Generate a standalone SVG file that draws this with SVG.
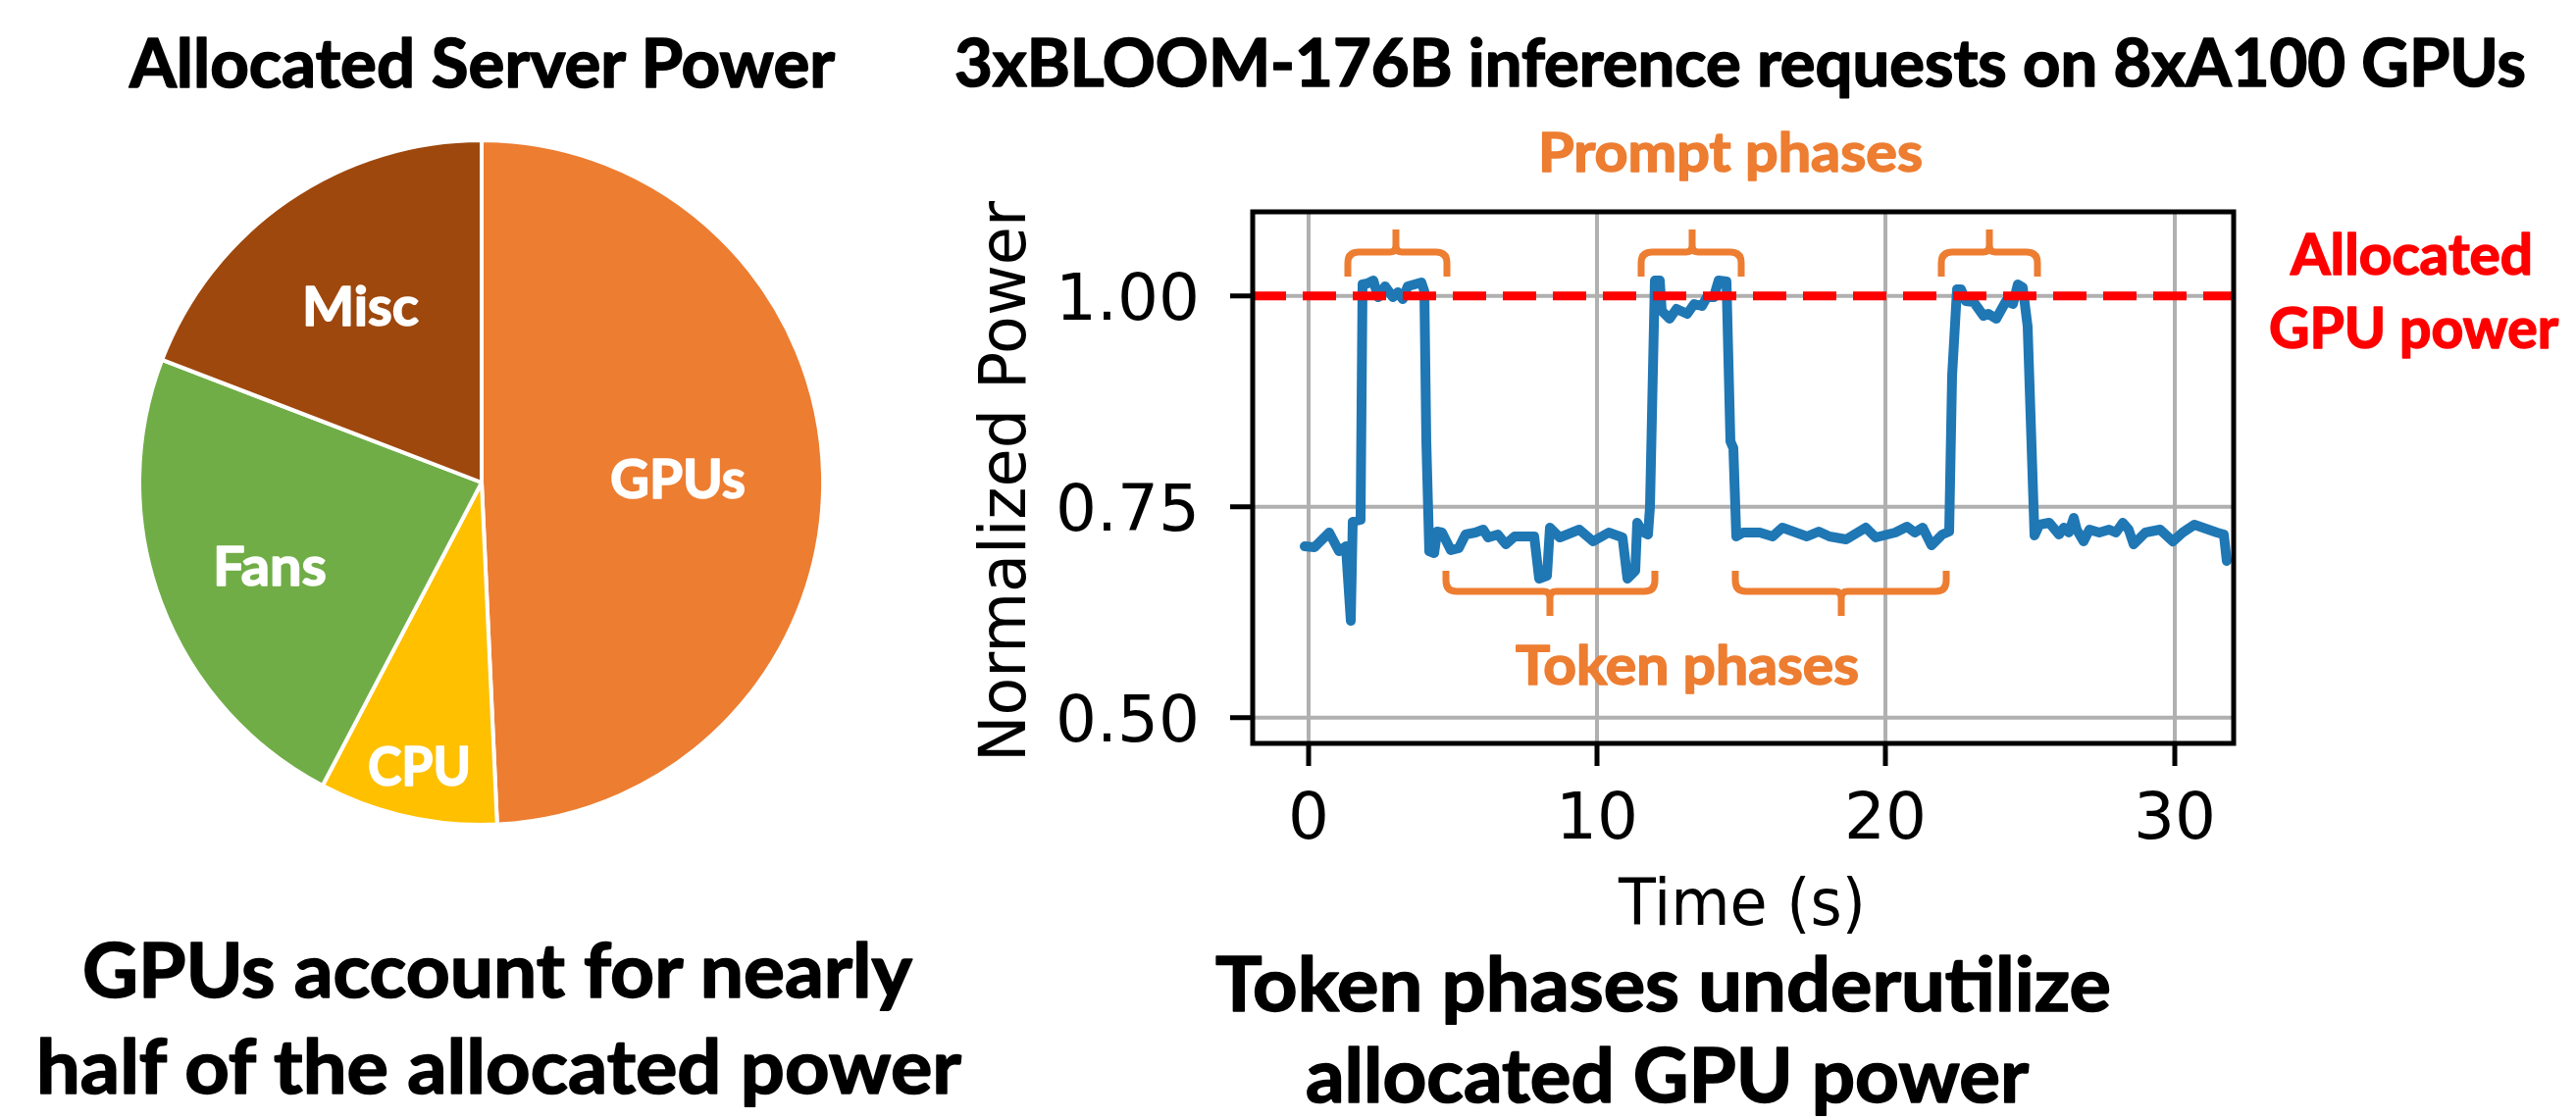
<svg xmlns="http://www.w3.org/2000/svg" width="2626" height="1142" viewBox="0 0 2626 1142">
<style>
.t{font-family:Lato,"Open Sans","Liberation Sans",sans-serif;font-weight:bold;text-anchor:middle;stroke-width:1.6;stroke-linejoin:round}
.blk{fill:#000;stroke:#000}
.wht{fill:#fff;stroke:#fff}
.org{fill:#ED7D31;stroke:#ED7D31}
.red{fill:#FF0000;stroke:#FF0000}
.mp{font-family:"DejaVu Sans",sans-serif;font-size:66px;fill:#000}
.grid{stroke:#b0b0b0;stroke-width:4;fill:none}
.tick{stroke:#000;stroke-width:5}
.brace{stroke:#ED7D31;stroke-width:7;fill:none;stroke-linejoin:round}
.slice{stroke:#fff;stroke-width:4;stroke-linejoin:round}
</style>
<rect x="0" y="0" width="2626" height="1142" fill="#fff"/>

<g id="pie-chart">
  <text class="t blk" x="491.5" y="89" font-size="68" textLength="719" lengthAdjust="spacingAndGlyphs">Allocated Server Power</text>
  <g id="slice-gpus">
    <path class="slice" fill="#ED7D31" d="M491,492 L491,143 A349,349 0 0 1 506.8,840.6 Z"/>
    <text class="t wht" x="691" y="508" font-size="56" textLength="138" lengthAdjust="spacingAndGlyphs">GPUs</text>
  </g>
  <g id="slice-cpu">
    <path class="slice" fill="#FFC000" d="M491,492 L506.8,840.6 A349,349 0 0 1 328.8,801 Z"/>
    <text class="t wht" x="427.5" y="801" font-size="56" textLength="105" lengthAdjust="spacingAndGlyphs">CPU</text>
  </g>
  <g id="slice-fans">
    <path class="slice" fill="#70AD47" d="M491,492 L328.8,801 A349,349 0 0 1 165.2,366.9 Z"/>
    <text class="t wht" x="275" y="597" font-size="56" textLength="116" lengthAdjust="spacingAndGlyphs">Fans</text>
  </g>
  <g id="slice-misc">
    <path class="slice" fill="#9E480E" d="M491,492 L165.2,366.9 A349,349 0 0 1 491,143 Z"/>
    <text class="t wht" x="367.5" y="332" font-size="56" textLength="119" lengthAdjust="spacingAndGlyphs">Misc</text>
  </g>
  <g id="caption-left">
    <text class="t blk" x="507" y="1017" font-size="76" textLength="846" lengthAdjust="spacingAndGlyphs">GPUs account for nearly</text>
    <text class="t blk" x="508.5" y="1115" font-size="76" textLength="943" lengthAdjust="spacingAndGlyphs">half of the allocated power</text>
  </g>
</g>

<g id="line-chart">
  <text class="t blk" x="1774" y="88" font-size="66" textLength="1602" lengthAdjust="spacingAndGlyphs">3xBLOOM-176B inference requests on 8xA100 GPUs</text>
  <g id="grid">
    <path class="grid" d="M1334,216 V758 M1628,216 V758 M1922,216 V758 M2217,216 V758 M1277,301.7 H2277 M1277,516.7 H2277 M1277,731.7 H2277"/>
  </g>
  <g id="series">
    <polyline fill="none" stroke="#1f77b4" stroke-width="10" stroke-linejoin="round" stroke-linecap="round" points="1330,557 1340,558 1355,543 1365,562 1372,557 1377,633 1379,532 1387,530 1389,290 1394,289 1400,286 1405,303 1412,292 1420,303 1425,298 1430,305 1435,292 1442,290 1449,288 1452,297 1454,450 1457,562 1462,564 1465,542 1470,543 1479,561 1487,559 1494,545 1504,543 1512,540 1517,548 1527,545 1535,555 1544,547 1564,547 1569,590 1577,587 1580,538 1590,548 1610,540 1624,552 1640,543 1654,548 1659,590 1667,582 1669,533 1674,542 1680,545 1682,517 1687,286 1692,286 1694,317 1702,325 1709,315 1720,320 1727,310 1735,312 1740,303 1747,303 1752,286 1760,287 1764,450 1767,457 1770,547 1777,543 1794,543 1807,547 1817,538 1842,547 1854,542 1865,547 1882,550 1902,538 1912,548 1932,543 1944,537 1952,543 1960,538 1969,556 1980,545 1987,542 1990,383 1995,295 1999,295 2004,307 2012,308 2022,322 2027,320 2035,325 2045,307 2052,310 2057,290 2062,293 2067,333 2074,546 2079,535 2089,533 2099,545 2104,538 2109,543 2114,528 2117,540 2124,552 2130,540 2140,543 2150,540 2157,543 2164,533 2170,540 2175,555 2187,543 2202,540 2215,552 2225,543 2237,535 2260,543 2267,545 2270,572"/>
  </g>
  <g id="allocated-line">
    <line x1="1277" y1="301.7" x2="2277" y2="301.7" stroke="#FF0000" stroke-width="9" stroke-dasharray="34 17"/>
  </g>
  <g id="axes">
    <rect x="1277" y="216" width="1000" height="542" fill="none" stroke="#000" stroke-width="5"/>
    <path class="tick" d="M1254,301.7 H1277 M1254,516.7 H1277 M1254,731.7 H1277 M1334,758 V781 M1628,758 V781 M1922,758 V781 M2217,758 V781"/>
    <text class="mp" x="1223" y="326" text-anchor="end">1.00</text>
    <text class="mp" x="1223" y="541" text-anchor="end">0.75</text>
    <text class="mp" x="1223" y="756" text-anchor="end">0.50</text>
    <text class="mp" x="1334" y="855" text-anchor="middle">0</text>
    <text class="mp" x="1628" y="855" text-anchor="middle">10</text>
    <text class="mp" x="1922" y="855" text-anchor="middle">20</text>
    <text class="mp" x="2217" y="855" text-anchor="middle">30</text>
    <text class="mp" x="1776" y="943" text-anchor="middle" textLength="252" lengthAdjust="spacingAndGlyphs">Time (s)</text>
    <text class="mp" transform="translate(1045,491) rotate(-90)" x="0" y="0" font-size="70" text-anchor="middle" textLength="572" lengthAdjust="spacingAndGlyphs">Normalized Power</text>
  </g>
  <g id="prompt-braces">
    <path class="brace" d="M1374,282 V268 Q1374,257 1385,257 H1417 Q1423,257 1423,250 V234 M1423,250 Q1423,257 1429,257 H1464 Q1475,257 1475,268 V282"/>
    <path class="brace" d="M1673,282 V268 Q1673,257 1684,257 H1719 Q1725,257 1725,250 V234 M1725,250 Q1725,257 1731,257 H1764 Q1775,257 1775,268 V282"/>
    <path class="brace" d="M1979,282 V268 Q1979,257 1990,257 H2022 Q2028,257 2028,250 V234 M2028,250 Q2028,257 2034,257 H2066 Q2077,257 2077,268 V282"/>
    <text class="t org" x="1764" y="175" font-size="56" textLength="392" lengthAdjust="spacingAndGlyphs">Prompt phases</text>
  </g>
  <g id="token-braces">
    <path class="brace" d="M1474,582 V592 Q1474,603 1485,603 H1574 Q1580,603 1580,610 V628 M1580,610 Q1580,603 1586,603 H1676 Q1687,603 1687,592 V582"/>
    <path class="brace" d="M1769,582 V592 Q1769,603 1780,603 H1871 Q1877,603 1877,610 V628 M1877,610 Q1877,603 1883,603 H1973 Q1984,603 1984,592 V582"/>
    <text class="t org" x="1720" y="698" font-size="56" textLength="350" lengthAdjust="spacingAndGlyphs">Token phases</text>
  </g>
  <g id="allocated-label">
    <text class="t red" x="2458.5" y="280" font-size="58" textLength="247" lengthAdjust="spacingAndGlyphs">Allocated</text>
    <text class="t red" x="2460.5" y="355" font-size="58" textLength="295" lengthAdjust="spacingAndGlyphs">GPU power</text>
  </g>
  <g id="caption-right">
    <text class="t blk" x="1695.5" y="1031" font-size="76" textLength="913" lengthAdjust="spacingAndGlyphs">Token phases underutilize</text>
    <text class="t blk" x="1699.5" y="1124" font-size="76" textLength="737" lengthAdjust="spacingAndGlyphs">allocated GPU power</text>
  </g>
</g>
</svg>
